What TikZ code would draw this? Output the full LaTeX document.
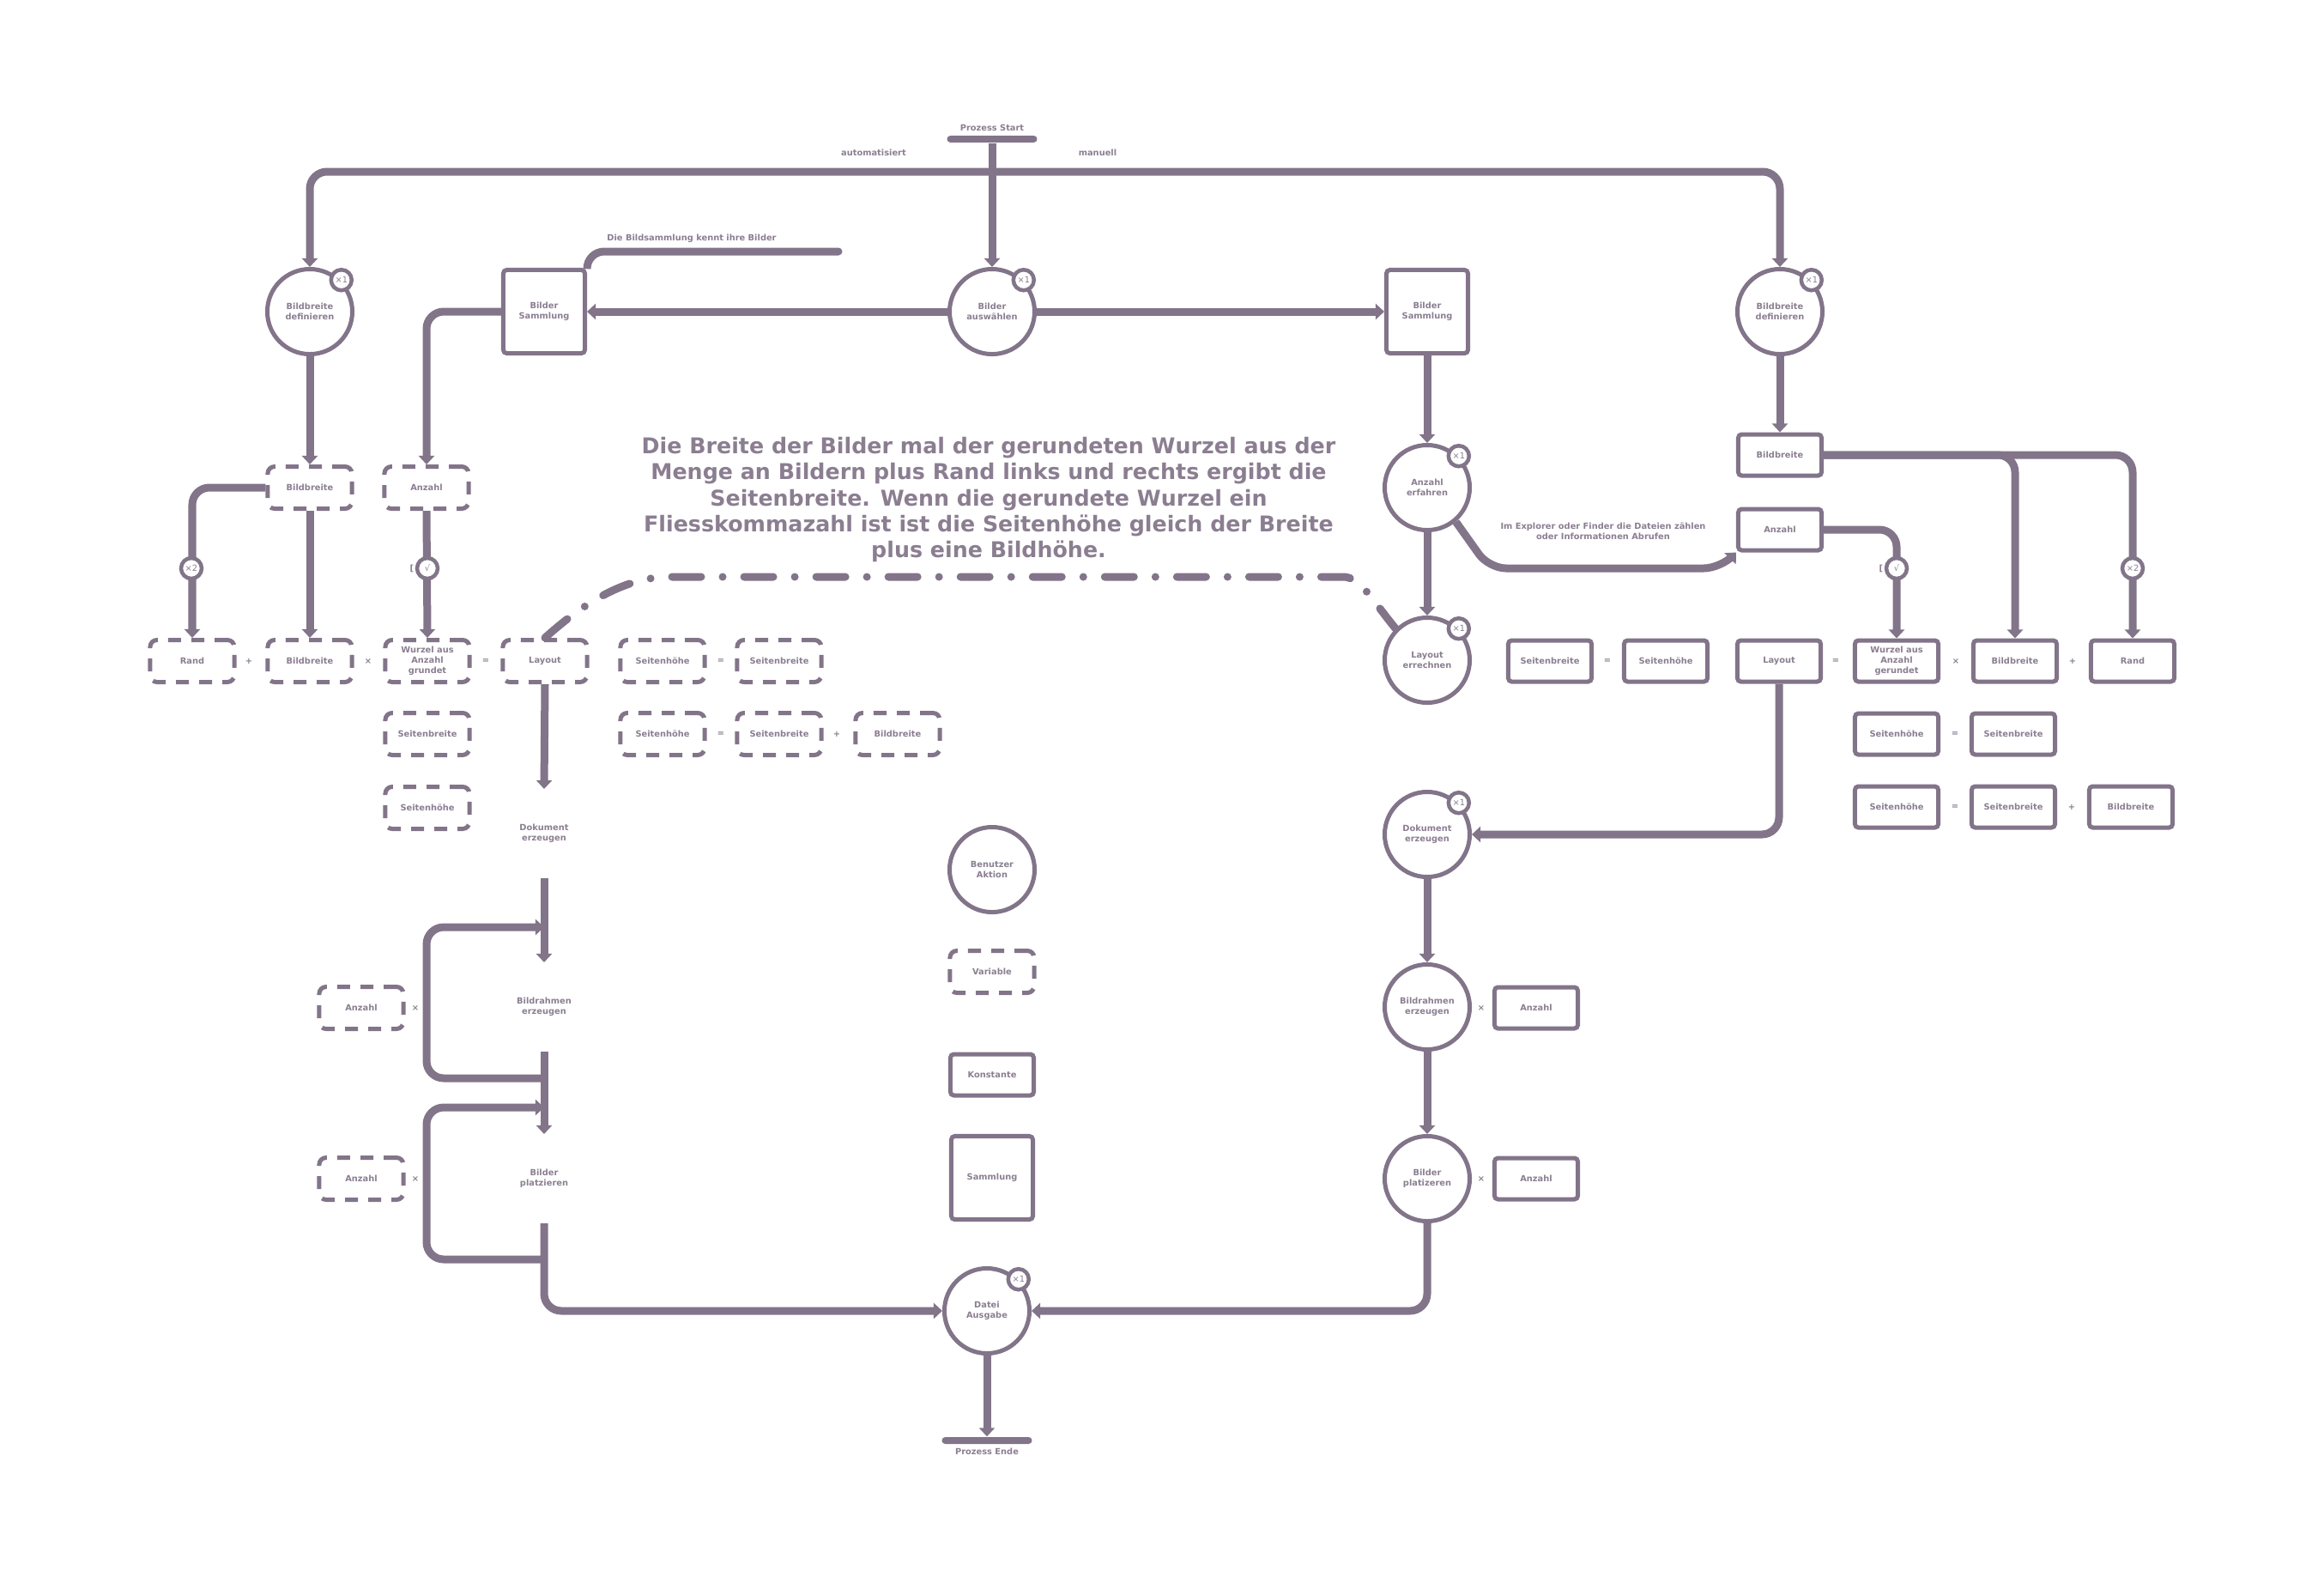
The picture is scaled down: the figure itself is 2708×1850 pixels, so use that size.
\documentclass[tikz,border=0pt]{standalone}
\usepackage{fontspec}
\setmainfont{DejaVu Sans}
\usepackage{xcolor}
\usetikzlibrary{shapes.geometric, arrows.meta, positioning}
\definecolor{flowgray}{HTML}{827489}
\definecolor{labelgray}{HTML}{8B7E91}
\newcommand{\tinyfont}{\fontsize{2.8pt}{3.4pt}\selectfont\bfseries}

\begin{document}
\begin{tikzpicture}[
  x=0.01cm, y=-0.01cm,
  action/.style={
    circle, draw=flowgray, line width=0.05cm, fill=white,
    minimum size=0.99cm, inner sep=0pt, align=center,
    font=\tinyfont, text=labelgray
  },
  silent/.style={action, draw=none, fill=none},
  badge/.style={
    circle, draw=flowgray, line width=0.045cm, fill=white,
    minimum size=0.24cm, inner sep=0pt,
    font=\fontsize{2.8pt}{3pt}\selectfont, text=labelgray
  },
  once/.style={label={[badge, anchor=center]45:×1}},
  constbox/.style={
    rectangle, draw=flowgray, line width=0.05cm, fill=white, rounded corners=0.04cm,
    minimum width=0.97cm, minimum height=0.48cm, inner sep=0.02cm,
    align=center, font=\tinyfont, text=labelgray
  },
  collbox/.style={constbox, minimum width=0.95cm, minimum height=0.97cm},
  varbox/.style={constbox, dash pattern=on 0.15cm off 0.12cm, rounded corners=0.08cm,
    minimum width=0.98cm, minimum height=0.49cm},
  op/.style={font=\tinyfont, text=labelgray, inner sep=0pt},
  lbl/.style={font=\tinyfont, text=labelgray, inner sep=0.02cm, align=center},
  bar/.style={fill=flowgray, rounded corners=0.04cm, minimum width=1.05cm,
    minimum height=0.08cm, inner sep=0pt},
  flow/.style={-{Triangle[length=0.1cm,width=0.18cm]}, line width=0.09cm,
    draw=flowgray, rounded corners=0.2cm},
  plainline/.style={line width=0.09cm, draw=flowgray, rounded corners=0.2cm},
  hint/.style={line width=0.09cm, draw=flowgray, line cap=round,
    dash pattern=on 0.34cm off 0.25cm on 0cm off 0.25cm}
]
  \useasboundingbox (0,0) rectangle (2708,1850);

  % Start und Ende
  \node[bar] (start) at (1156,162) {};
  \node[lbl, above=0.02cm of start] {Prozess Start};
  \node[lbl] at (1018,178) {automatisiert};
  \node[lbl] at (1279,178) {manuell};
  \node[bar] (ende) at (1150,1678) {};
  \node[lbl, below=0.02cm of ende] {Prozess Ende};

  % Aktionen
  \node[action, once] (bdL)       at (361,363)   {Bildbreite\\definieren};
  \node[action, once] (auswahl)   at (1156,363)  {Bilder\\auswählen};
  \node[action, once] (bdR)       at (2074,363)  {Bildbreite\\definieren};
  \node[action, once] (erfahren)  at (1663,568)  {Anzahl\\erfahren};
  \node[action, once] (errechnen) at (1663,769)  {Layout\\errechnen};
  \node[action, once] (dokR)      at (1663,972)  {Dokument\\erzeugen};
  \node[action] (rahmenR)         at (1663,1173) {Bildrahmen\\erzeugen};
  \node[action] (platzR)          at (1663,1373) {Bilder\\platizeren};
  \node[action, once] (datei)     at (1150,1527) {Datei\\Ausgabe};
  \node[silent] (dokL)    at (634,971)  {Dokument\\erzeugen};
  \node[silent] (rahmenL) at (634,1173) {Bildrahmen\\erzeugen};
  \node[silent] (platzL)  at (634,1373) {Bilder\\platzieren};

  % Sammlungen
  \node[collbox] (samL) at (634,363)  {Bilder\\Sammlung};
  \node[collbox] (samR) at (1663,363) {Bilder\\Sammlung};
  \node[lbl] at (806,278) {Die Bildsammlung kennt ihre Bilder};
  \coordinate (noteEnd) at (977,293);

  % automatisiert: Variablen
  \node[varbox] (bbL)     at (361,568) {Bildbreite};
  \node[varbox] (anzL)    at (497,568) {Anzahl};
  \node[varbox] (randL)   at (224,770) {Rand};
  \node[varbox] (bbrowL)  at (361,770) {Bildbreite};
  \node[varbox] (wurzelL) at (498,770) {Wurzel aus\\Anzahl\\grundet};
  \node[varbox] (layoutL) at (635,770) {Layout};
  \node[varbox] (shL)     at (772,770) {Seitenhöhe};
  \node[varbox] (sbL)     at (908,770) {Seitenbreite};
  \node[varbox] (sbL2)    at (498,855) {Seitenbreite};
  \node[varbox] (shL2)    at (772,855) {Seitenhöhe};
  \node[varbox] (sbL3)    at (908,855) {Seitenbreite};
  \node[varbox] (bbL3)    at (1046,855) {Bildbreite};
  \node[varbox] (shL3)    at (498,941) {Seitenhöhe};
  \node[varbox] (anzL4)   at (421,1174) {Anzahl};
  \node[varbox] (anzL5)   at (421,1373) {Anzahl};
  \node[op] at (290,770) {+};
  \node[op] at (429,770) {×};
  \node[op] at (566,770) {=};
  \node[op] at (840,770) {=};
  \node[op] at (840,855) {=};
  \node[op] at (975,855) {+};
  \node[op] at (484,1174) {×};
  \node[op] at (484,1373) {×};

  % manuell: Konstanten
  \node[constbox] (bbR)     at (2074,530) {Bildbreite};
  \node[constbox] (anzR)    at (2074,617) {Anzahl};
  \node[constbox] (sbR)     at (1806,770) {Seitenbreite};
  \node[constbox] (shR)     at (1941,770) {Seitenhöhe};
  \node[constbox] (layoutR) at (2073,770) {Layout};
  \node[constbox] (wurzelR) at (2210,770) {Wurzel aus\\Anzahl\\gerundet};
  \node[constbox] (bbrowR)  at (2348,770) {Bildbreite};
  \node[constbox] (randR)   at (2485,770) {Rand};
  \node[constbox] (shR2)    at (2210,855) {Seitenhöhe};
  \node[constbox] (sbR2)    at (2346,855) {Seitenbreite};
  \node[constbox] (shR3)    at (2210,940) {Seitenhöhe};
  \node[constbox] (sbR3)    at (2346,940) {Seitenbreite};
  \node[constbox] (bbR3)    at (2483,940) {Bildbreite};
  \node[constbox] (anzR4)   at (1790,1174) {Anzahl};
  \node[constbox] (anzR5)   at (1790,1373) {Anzahl};
  \node[op] at (1873,770) {=};
  \node[op] at (2139,770) {=};
  \node[op] at (2279,770) {×};
  \node[op] at (2415,770) {+};
  \node[op] at (2278,855) {=};
  \node[op] at (2278,940) {=};
  \node[op] at (2414,940) {+};
  \node[op] at (1726,1174) {×};
  \node[op] at (1726,1373) {×};
  \node[lbl] at (1868,619) {Im Explorer oder Finder die Dateien zählen\\oder Informationen Abrufen};

  % Legende
  \node[action]   (aktion)    at (1156,1013) {Benutzer\\Aktion};
  \node[varbox]   (variable)  at (1156,1132) {Variable};
  \node[constbox] (konstante) at (1156,1252) {Konstante};
  \node[collbox]  (sammlung)  at (1156,1372) {Sammlung};

  % Erklaerung
  \node[font=\fontsize{7.2pt}{8.6pt}\selectfont\bfseries, text=labelgray, align=center]
    (explain) at (1152,582)
    {Die Breite der Bilder mal der gerundeten Wurzel aus der\\
     Menge an Bildern plus Rand links und rechts ergibt die\\
     Seitenbreite. Wenn die gerundete Wurzel ein\\
     Fliesskommazahl ist ist die Seitenhöhe gleich der Breite\\
     plus eine Bildhöhe.};

  % Verbindungen oben
  \coordinate (fork) at (1156,200);
  \draw[flow] (start.south) -- (auswahl.north);
  \draw[flow] (fork) -| (bdL.north);
  \draw[flow] (fork) -| (bdR.north);
  \draw[flow] (auswahl.west) -- (samL.east);
  \draw[flow] (auswahl.east) -- (samR.west);
  \draw[plainline, line cap=round] (samL.north east) |- (noteEnd);

  % links
  \draw[flow] (bdL.south) -- (bbL.north);
  \draw[flow] (bbL.south) -- (bbrowL.north);
  \draw[flow] (bbL.west) -| (randL.north);
  \draw[flow] (samL.west) -| (anzL.north);
  \draw[flow] (anzL.south) -- (wurzelL.north);
  \draw[flow] (layoutL.south) -- (dokL.north);
  \draw[flow] (dokL.south) -- (rahmenL.north);
  \draw[flow] (rahmenL.south) -- (platzL.north);
  \draw[flow] (platzL.south) |- (datei.west);
  \coordinate (rahmenOut) at (634,1256);
  \coordinate (rahmenIn)  at (634,1080);
  \coordinate (platzOut)  at (634,1467);
  \coordinate (platzIn)   at (634,1290);
  \draw[flow] (rahmenOut) -- (497,1256) -- (497,1080) -- (rahmenIn);
  \draw[flow] (platzOut) -- (497,1467) -- (497,1290) -- (platzIn);
  \node[badge] (twiceL) at (223,662) {×2};
  \node[badge] (rootL)  at (498,662) {√};
  \node[op, left=0.01cm of rootL] {[};

  % rechts
  \draw[flow] (samR.south) -- (erfahren.north);
  \draw[flow] (erfahren.south) -- (errechnen.north);
  \draw[flow] (erfahren.-50) -- (1735,662) -- (2005,662) -- (anzR.south west);
  \draw[flow] (bdR.south) -- (bbR.north);
  \draw[flow] (bbR.east) -| (bbrowR.north);
  \draw[flow] (bbR.east) -| (randR.north);
  \draw[flow] (anzR.east) -| (wurzelR.north);
  \draw[flow] (layoutR.south) |- (dokR.east);
  \draw[flow] (dokR.south) -- (rahmenR.north);
  \draw[flow] (rahmenR.south) -- (platzR.north);
  \draw[flow] (platzR.south) |- (datei.east);
  \draw[flow] (datei.south) -- (ende.north);
  \node[badge] (twiceR) at (2485,662) {×2};
  \node[badge] (rootR)  at (2210,662) {√};
  \node[op, left=0.01cm of rootR] {[};

  % Hinweis
  \draw[hint] (layoutL.north) .. controls (675,707) and (725,672) .. (780,672)
    -- (1565,672) .. controls (1585,672) and (1598,698) .. (errechnen.135);
\end{tikzpicture}
\end{document}
